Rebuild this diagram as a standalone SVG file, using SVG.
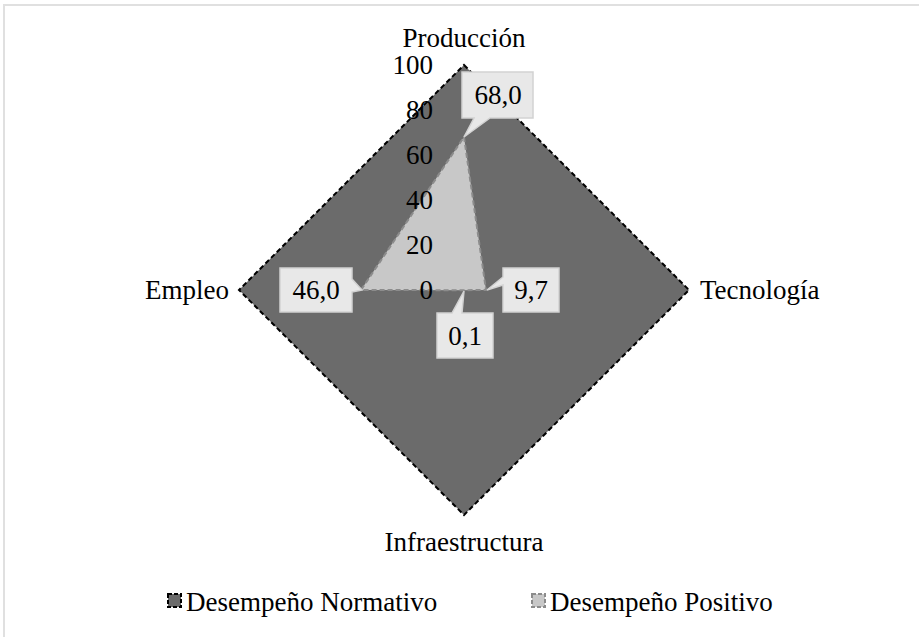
<svg xmlns="http://www.w3.org/2000/svg" width="919" height="637" viewBox="0 0 919 637">
<style>
text{font-family:'Liberation Serif','Times New Roman',Times,'DejaVu Serif','Noto Serif',serif;font-size:27px;fill:#000}
.tick{text-anchor:end}
.mid{text-anchor:middle}
.norm{fill:#6b6b6b;stroke:#000;stroke-width:2;stroke-dasharray:5,3}
.pos{fill:#c8c8c8;stroke:#8c8c8c;stroke-width:2;stroke-dasharray:5,3}
.call{fill:#e8e8e8;stroke:#d2d2d2;stroke-width:1.5}
</style>
<rect x="0" y="0" width="919" height="637" fill="#fff"/>
<path d="M4,637 V5 H919" fill="none" stroke="#e0e0e0" stroke-width="2"/>
<g id="series-normativo">
<polygon class="norm" points="464,65 689,290 464,515 239,290"/>
</g>
<g id="series-positivo">
<polygon class="pos" points="464,137 486,290 464,290.2 361,290"/>
</g>
<g id="ticks">
<text class="tick" x="433" y="74">100</text>
<text class="tick" x="433" y="119">80</text>
<text class="tick" x="433" y="164">60</text>
<text class="tick" x="433" y="209">40</text>
<text class="tick" x="433" y="254">20</text>
<text class="tick" x="433" y="299">0</text>
</g>
<g id="axis-labels">
<text id="lbl-produccion" class="mid" x="464" y="47">Producción</text>
<text id="lbl-tecnologia" x="700" y="299">Tecnología</text>
<text id="lbl-infra" class="mid" x="464" y="551">Infraestructura</text>
<text id="lbl-empleo" x="229" y="299" text-anchor="end">Empleo</text>
</g>
<g id="connectors">
<g id="call-68">
<path class="call" d="M462,72 H533 V118 H490 L464,137 L474,118 H462 Z"/>
<text class="mid" x="498" y="104">68,0</text>
</g>
<g id="call-46">
<path class="call" d="M280,268 H352 V279 L362,290 L352,292 V312 H280 Z"/>
<text class="mid" x="316" y="299">46,0</text>
</g>
<g id="call-97">
<path class="call" d="M503,268 H559 V312 H503 V285 L487,290 L503,277 Z"/>
<text class="mid" x="531" y="299">9,7</text>
</g>
<g id="call-01">
<path class="call" d="M437,313 H452 L464,291 L462,313 H493 V358 H437 Z"/>
<text class="mid" x="465" y="345">0,1</text>
</g>
</g>
<g id="legend">
<rect x="168" y="594" width="13" height="13" fill="#6b6b6b" stroke="#000" stroke-width="2" stroke-dasharray="4,2"/>
<text x="186" y="611">Desempeño Normativo</text>
<rect x="532" y="594" width="13" height="13" fill="#c8c8c8" stroke="#8c8c8c" stroke-width="2" stroke-dasharray="4,2"/>
<text x="550" y="611">Desempeño Positivo</text>
</g>
</svg>
